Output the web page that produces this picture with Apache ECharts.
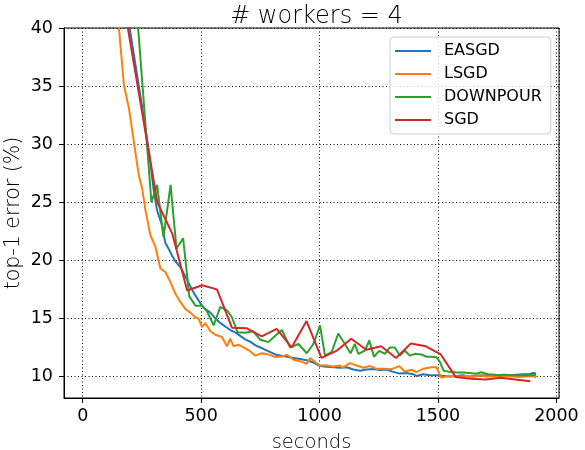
<!DOCTYPE html>
<html>
<head>
<meta charset="utf-8">
<script src="https://cdn.jsdelivr.net/npm/echarts@6/dist/echarts.min.js"></script>
<style>html,body{margin:0;padding:0;background:#fff}#c{width:585px;height:450px}</style>
</head>
<body>
<div id="c"></div>
<script>
// ---- data ----
var seriesNames = ['EASGD', 'LSGD', 'DOWNPOUR', 'SGD'];

var easgdT = [170,198,226,254,282,300,314,335,349,363,377,392,413,441,469,497,511,539,560,581,602,623,644,665,686,707,728,750,771,792,813,834,862,890,918,946,974,1002,1030,1058,1086,1115,1143,1171,1199,1226,1255,1283,1311,1339,1367,1395,1409,1437,1465,1493,1521,1549,1577,1605,1633,1661,1690,1718,1746,1774,1802,1830,1858,1886,1900,1914];
var easgdErr = [44,40.0,36.4,32.8,29.0,26.0,24.3,23.0,21.5,21.0,20.4,19.9,19.4,18.3,17.2,16.3,15.9,15.5,15.0,14.6,14.3,14.0,13.8,13.5,13.2,13.0,12.7,12.5,12.3,12.1,11.9,11.8,11.7,11.6,11.5,11.4,11.2,10.9,10.85,10.8,10.75,10.8,10.6,10.5,10.6,10.65,10.55,10.6,10.4,10.25,10.3,10.2,10.05,10.2,10.1,10.1,10.05,10.0,10.05,10.1,10.0,10.05,10.1,10.05,10.1,10.15,10.1,10.15,10.2,10.2,10.3,10.25];

var lsgdT = [130,153,174,195,216,237,251,265,286,307,328,349,371,392,413,434,455,476,490,504,518,539,560,588,609,623,637,658,679,707,728,756,784,813,841,862,890,918,946,960,981,1002,1030,1058,1086,1097,1128,1157,1184,1213,1241,1269,1304,1336,1360,1388,1409,1437,1472,1493,1514,1535,1563,1591,1619,1647,1675,1703,1731,1759,1787,1815,1843,1871,1900,1914];
var lsgdErr = [44,40,35.1,33.1,30.2,27.3,26.2,24.3,22.15,21.15,19.3,19.0,18.1,17.1,16.4,15.8,15.5,15.1,14.97,14.25,14.6,13.9,13.6,13.4,12.6,13.25,12.6,12.73,12.5,12.18,11.8,12.0,11.9,11.67,11.72,11.87,11.44,11.32,11.1,11.6,11.24,10.95,10.95,10.86,10.95,10.75,11.15,10.95,10.75,10.9,10.66,10.66,10.63,10.9,10.43,10.58,10.37,10.66,10.8,10.8,9.9,10.0,10.05,10.0,10.05,9.95,10.1,10.0,10.05,10.0,10.05,10.0,9.95,10.0,10.05,9.9];

var downpourT = [206,234,262,290,314,341,371,396,424,450,476,504,525,553,581,609,630,654,686,719,750,784,813,841,876,911,946,974,1002,1023,1051,1079,1107,1131,1149,1164,1192,1210,1230,1252,1276,1297,1318,1339,1360,1381,1402,1430,1451,1472,1493,1507,1524,1549,1577,1605,1633,1662,1683,1711,1732,1760,1788,1816,1844,1872,1900,1914];
var downpourErr = [47,40,32.5,25.0,26.5,22.0,26.5,21.0,21.9,16.9,16.1,16.1,15.6,14.4,16.0,15.7,15.1,13.8,13.76,13.9,13.16,12.96,13.5,14.0,12.5,12.8,12.0,12.8,14.4,11.8,12.1,13.7,12.8,12.0,12.8,11.95,12.24,13.1,11.7,12.2,11.95,12.5,12.5,11.8,12.24,11.8,11.95,11.9,11.7,11.7,11.66,11.3,10.5,10.4,10.35,10.35,10.3,10.24,10.37,10.2,10.17,10.1,10.15,10.1,10.1,10.1,10.1,10.15];

var sgdT = [126,189,252,315,378,441,504,567,630,693,756,819,882,945,1008,1071,1134,1197,1260,1323,1386,1449,1512,1575,1638,1701,1764,1827,1890];
var sgdErr = [48,40.2,32.6,25.0,22.3,17.4,17.85,17.5,14.2,14.15,13.45,14.1,12.5,14.77,11.6,12.2,13.25,12.3,12.6,11.6,12.85,12.6,11.9,9.95,9.8,9.75,9.9,9.75,9.6];

var xRange = [-79, 2011];
var yRange = [8.15, 40];
var colors = ['#1f77b4', '#ff7f0e', '#2ca02c', '#d62728'];

function zip(t, v) { return t.map(function (x, i) { return [x, v[i]]; }); }
var allData = [zip(easgdT, easgdErr), zip(lsgdT, lsgdErr), zip(downpourT, downpourErr), zip(sgdT, sgdErr)];

var FONT = 'DejaVu Sans';
function plain(v) { return String(v); }
var chart = echarts.init(document.getElementById('c'), null, {renderer: 'canvas'});
chart.setOption({
  animation: false,
  backgroundColor: '#fff',
  title: {
    text: '# workers = 4',
    left: 311.5,
    textAlign: 'center',
    top: 0,
    textStyle: {fontFamily: FONT, fontSize: 24, fontWeight: 200, color: '#000'}
  },
  legend: {
    data: seriesNames,
    orient: 'vertical',
    left: 390,
    top: 37,
    icon: 'rect',
    itemWidth: 36,
    itemHeight: 2,
    itemGap: 5,
    padding: [5, 9, 5, 5],
    backgroundColor: 'rgba(255,255,255,0.8)',
    borderColor: '#cccccc',
    borderWidth: 1,
    borderRadius: 4,
    textStyle: {fontFamily: FONT, fontSize: 16, color: '#000', lineHeight: 18, padding: [0, 0, 0, 8]}
  },
  grid: {left: 64, top: 28, width: 495, height: 370, show: true, borderColor: '#000', borderWidth: 1,
         backgroundColor: 'transparent', containLabel: false, outerBoundsMode: 'none'},
  xAxis: {
    type: 'value',
    min: xRange[0],
    max: xRange[1],
    splitNumber: 5,
    name: 'seconds',
    nameLocation: 'middle',
    nameGap: 35,
    nameTextStyle: {fontFamily: FONT, fontSize: 19.5, fontWeight: 200, color: '#000'},
    axisLine: {show: true, onZero: false, lineStyle: {color: '#000', width: 1}},
    axisTick: {show: true, length: 5, lineStyle: {color: '#000'}},
    axisLabel: {fontFamily: FONT, fontSize: 17.5, color: '#000', margin: 9, showMinLabel: false, showMaxLabel: false, formatter: plain},
    splitLine: {show: true, lineStyle: {color: '#000', type: [1, 2.5], width: 1}}
  },
  yAxis: {
    type: 'value',
    min: yRange[0],
    max: yRange[1],
    splitNumber: 5,
    name: 'top-1 error (%)',
    nameLocation: 'middle',
    nameGap: 40,
    nameMoveOverlap: false,
    nameTextStyle: {fontFamily: FONT, fontSize: 20.5, fontWeight: 200, color: '#000'},
    axisLine: {show: true, onZero: false, lineStyle: {color: '#000', width: 1}},
    axisTick: {show: true, length: 5, lineStyle: {color: '#000'}},
    axisLabel: {fontFamily: FONT, fontSize: 17.5, color: '#000', margin: 11, showMinLabel: false, showMaxLabel: true, formatter: plain},
    splitLine: {show: true, lineStyle: {color: '#000', type: [1, 2.5], width: 1}}
  },
  series: seriesNames.map(function (n, i) {
    return {
      name: n,
      type: 'line',
      data: allData[i],
      showSymbol: false,
      symbol: 'none',
      clip: true,
      color: colors[i],
      lineStyle: {color: colors[i], width: 2},
      z: 2 + i
    };
  })
});
</script>
</body>
</html>
